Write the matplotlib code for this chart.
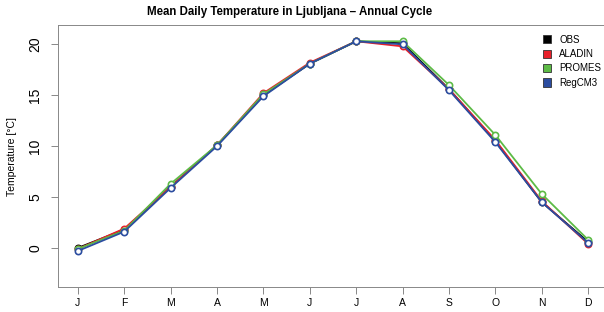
import matplotlib.pyplot as plt
from matplotlib.patches import Patch

months = ['J', 'F', 'M', 'A', 'M', 'J', 'J', 'A', 'S', 'O', 'N', 'D']
obs = [0.0, 1.8, 6.0, 10.1, 15.0, 18.1, 20.3, 20.1, 15.6, 10.5, 4.5, 0.6]
aladin = [-0.1, 1.9, 6.0, 10.1, 15.2, 18.2, 20.3, 19.8, 15.6, 10.6, 4.6, 0.4]
promes = [-0.1, 1.7, 6.3, 10.1, 15.1, 18.1, 20.3, 20.3, 16.0, 11.1, 5.3, 0.8]
regcm3 = [-0.3, 1.6, 5.9, 10.0, 14.9, 18.1, 20.3, 20.0, 15.5, 10.4, 4.5, 0.5]

names = ['OBS', 'ALADIN', 'PROMES', 'RegCM3']
series = [obs, aladin, promes, regcm3]
colors = ['#000000', '#E8202A', '#5DBB46', '#2B4DA0']

plt.rcParams['font.family'] = ['Liberation Sans', 'DejaVu Sans']

fig = plt.figure(figsize=(6.04, 3.12), dpi=100)
ax = fig.add_axes([57.5 / 604, 25 / 312, 551 / 604, 262 / 312])

x = list(range(1, 13))
for vals, c in zip(series, colors):
    ax.plot(x, vals, color=c, lw=1.3, marker='o', ms=4.5, mfc='white',
            mec=c, mew=1.2)

ax.set_xlim(0.56, 12.44)
ax.set_ylim(-3.84, 21.9)
ax.set_xticks(x)
ax.set_xticklabels(months, fontsize=7.5)
ax.set_yticks([0, 5, 10, 15, 20])
ax.set_yticklabels(['0', '5', '10', '15', '20'], rotation=90, va='center', fontsize=10)
ax.tick_params(direction='out', length=5, color='#888888', width=0.7)
ax.tick_params(axis='x', pad=3)
ax.tick_params(axis='y', pad=6)
for s in ax.spines.values():
    s.set_color('#888888')
    s.set_linewidth(0.7)

ax.set_ylabel('Temperature [°C]', fontsize=7.5, labelpad=8)
fig.text(290 / 604, 1 - 12 / 312, 'Mean Daily Temperature in Ljubljana – Annual Cycle',
         ha='center', va='center', fontsize=8.3, fontweight='bold')

handles = [Patch(facecolor=c, edgecolor='#333333', lw=0.6) for c in colors]
leg = ax.legend(handles, names, loc='upper left', bbox_to_anchor=(532 / 604, 1 - 24 / 312),
                bbox_transform=fig.transFigure, fontsize=7, frameon=True,
                handlelength=0.9, handleheight=0.9, handletextpad=0.8,
                labelspacing=0.45, borderpad=0.6, fancybox=False)
leg.get_frame().set_edgecolor('none')
leg.get_frame().set_facecolor('white')
leg.get_frame().set_alpha(1)

fig.savefig('out.png', dpi=100)
